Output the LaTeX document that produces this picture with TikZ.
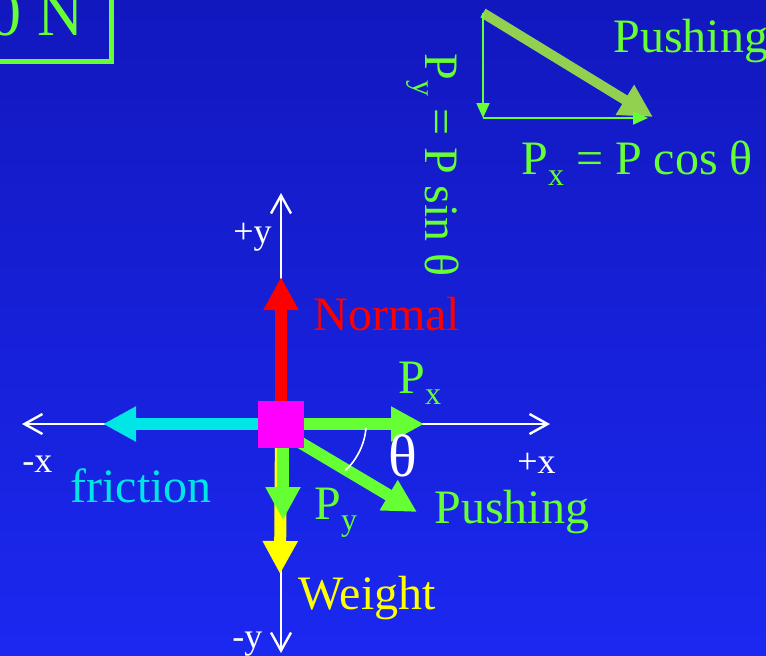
\documentclass[tikz,border=0pt]{standalone}
\usepackage{fontspec}
\setmainfont{Liberation Serif}
\usepackage{tikz}
\usetikzlibrary{arrows.meta}
\definecolor{slidetop}{RGB}{18,24,190}
\definecolor{slidebottom}{RGB}{27,40,240}
\definecolor{pushgreen}{RGB}{102,255,51}
\definecolor{olivegreen}{RGB}{146,208,80}
\definecolor{fricyan}{RGB}{0,229,229}
\definecolor{normalred}{RGB}{255,0,0}
\definecolor{weightyellow}{RGB}{255,255,0}
\definecolor{blockpink}{RGB}{255,0,255}
\newcommand{\sbs}[1]{\raisebox{-0.5ex}{\fontsize{16}{16}\selectfont #1}}

\begin{document}
\begin{tikzpicture}[x=0.5pt, y=-0.5pt,
    axis/.style={draw=white, line width=1.2pt,
                 -{Straight Barb[length=9pt, width=10pt, line width=1.2pt]}},
    force/.style={line width=6pt, -{Triangle[length=16.5pt, width=16.5pt]}},
    comp/.style={draw=pushgreen, line width=1pt, -{Triangle[length=7.5pt, width=6.5pt]}},
    lbl/.style={inner sep=0pt, anchor=base west, font=\fontsize{24}{28}\selectfont},
    axlbl/.style={inner sep=0pt, anchor=base west, text=white, font=\fontsize{18}{20}\selectfont},
    block/.style={fill=blockpink, minimum width=23pt, minimum height=23.5pt, inner sep=0pt}
]
    \useasboundingbox (0,0) rectangle (766,655);
    \clip (0,0) rectangle (766,655);
    \shade[top color=slidetop, bottom color=slidebottom] (0,0) rectangle (766,655);

    \draw[pushgreen, line width=2.5pt] (-10,-10) rectangle (111,61);
    \node[lbl, anchor=base east, text=pushgreen, font=\fontsize{32}{36}\selectfont] (load) at (84,35) {0 N};

    % axes
    \coordinate (blk) at (281,424);
    \coordinate (xpos) at (550,424);
    \coordinate (xneg) at (22,424);
    \coordinate (ypos) at (281,193);
    \coordinate (yneg) at (281,653);
    \draw[axis] (blk) -- (xpos);
    \draw[axis] (blk) -- (xneg);
    \draw[axis] (blk) -- (ypos);
    \draw[axis] (blk) -- (yneg);

    % forces
    \coordinate (ntip) at (281,277);
    \coordinate (ftip) at (103,424);
    \coordinate (wtip) at (280,574);
    \coordinate (pybase) at (283,424);
    \coordinate (pytip) at (283,520);
    \coordinate (pxtip) at (424,424);
    \coordinate (pbase) at (296,440);
    \coordinate (ptip) at (417,512);
    \draw[force, normalred] (blk) -- (ntip);
    \draw[force, fricyan] (blk) -- (ftip);
    \draw[force, weightyellow] (blk) -- (wtip);
    \draw[force, pushgreen] (pybase) -- (pytip);
    \draw[force, pushgreen] (blk) -- (pxtip);
    \draw[force, pushgreen] (pbase) -- (ptip);
    \draw[white, line width=0.8pt] (366,428) arc[start angle=5, end angle=47, radius=66];
    \node[block] (box) at (blk) {};

    \node[lbl, text=normalred] (normal) at (313,330) {Normal};
    \node[lbl, text=fricyan] (fric) at (70,502) {friction};
    \node[lbl, text=weightyellow] (weight) at (298,609) {Weight};
    \node[lbl, text=pushgreen] (push) at (434,523) {Pushing};
    \node[lbl, text=pushgreen] (pxl) at (398,393) {P\sbs{x}};
    \node[lbl, text=pushgreen] (pyl) at (314,519) {P\sbs{y}};
    \node[lbl, text=white, font=\fontsize{30}{34}\selectfont] (theta) at (388,476) {θ};
    \node[axlbl] (yplus) at (233,243) {+y};
    \node[axlbl] (xminus) at (22,472) {-x};
    \node[axlbl] (xplus) at (517,473) {+x};
    \node[axlbl] (yminus) at (232,648) {-y};

    % components
    \coordinate (pa) at (483,13);
    \coordinate (pb) at (653,117);
    \coordinate (pc) at (483,118);
    \coordinate (pxend) at (648,118);
    \draw[force, olivegreen, line width=5pt] (pa) -- (pb);
    \draw[comp] (pa) -- (pc);
    \draw[comp] (pc) -- (pxend);
    \node[lbl, text=pushgreen] (pushtop) at (613,52) {Pushing};
    \node[lbl, text=pushgreen] (pxeq) at (521,174) {P\sbs{x} = P cos θ};
    \node[lbl, text=pushgreen, rotate=-90] (pyeq) at (425,53) {P\sbs{y} = P sin θ};
\end{tikzpicture}
\end{document}
